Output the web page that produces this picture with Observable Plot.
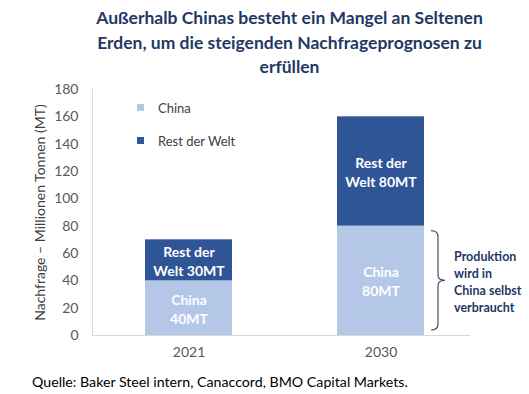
<!DOCTYPE html>
<html>
<head>
<meta charset="utf-8">
<script src="https://cdn.jsdelivr.net/npm/d3@7"></script>
<script src="https://cdn.jsdelivr.net/npm/@observablehq/plot@0.6"></script>
<style>
  html, body { margin: 0; padding: 0; background: #fff; }
  body { width: 529px; height: 394px; position: relative; overflow: hidden; font-family: Lato, "Open Sans", sans-serif; }
  #title { position: absolute; left: 50px; right: 0; top: 6px; text-align: center; font-weight: bold; font-size: 17.5px; line-height: 24.5px; color: #1f3864; }
  #chart { position: absolute; left: 0; top: 80px; }
  #legend { position: absolute; left: 137px; top: 100px; font-size: 13px; color: #404040; }
  .li { position: absolute; white-space: nowrap; height: 16px; line-height: 16px; }
  .sw { position: absolute; left: 0; top: 4px; width: 7px; height: 7px; }
  .lt { position: absolute; left: 21px; top: 0; }
  #caption { position: absolute; left: 32px; top: 373px; font-size: 14.2px; line-height: 18px; color: #000; white-space: nowrap; }
</style>
</head>
<body>
<div id="title">Außerhalb Chinas besteht ein Mangel an Seltenen<br>Erden, um die steigenden Nachfrageprognosen zu<br>erfüllen</div>
<div id="chart"></div>
<div id="legend"></div>
<div id="caption">Quelle: Baker Steel intern, Canaccord, BMO Capital Markets.</div>
<script>
const years = ["2021", "2030"];
const seriesNames = ["China", "Rest der Welt"];
const chinaValues = [40, 80];
const restValues = [30, 80];
const chinaLabels = ["China\n40MT", "China\n80MT"];
const restLabels = ["Rest der\nWelt 30MT", "Rest der\nWelt 80MT"];
const colors = ["#b4c7e7", "#2f5597"];
const yTicks = [0, 20, 40, 60, 80, 100, 120, 140, 160, 180];
const yLabel = "Nachfrage – Millionen Tonnen (MT)";
const annotation = "Produktion\nwird in\nChina selbst\nverbraucht";

const data = [];
years.forEach((yr, i) => {
  data.push({year: yr, series: seriesNames[0], value: chinaValues[i], label: chinaLabels[i]});
  data.push({year: yr, series: seriesNames[1], value: restValues[i], label: restLabels[i]});
});

const bracket = (index, scales) => {
  const x = scales.x, y = scales.y;
  let bw = 87;
  if (typeof x.bandwidth === "function") bw = x.bandwidth();
  else if (scales.scales && scales.scales.x && scales.scales.x.bandwidth) bw = scales.scales.x.bandwidth;
  const right = x("2030") + bw;
  const y1 = y(chinaValues[1]) + 5, y2 = y(0) - 5, ym = (y1 + y2) / 2;
  const xb = right + 7, xv = right + 14, xt = right + 21;
  const p = `M${xb},${y1} Q${xv},${y1} ${xv},${y1 + 6} L${xv},${ym - 5} Q${xv},${ym} ${xt},${ym} Q${xv},${ym} ${xv},${ym + 5} L${xv},${y2 - 6} Q${xv},${y2} ${xb},${y2}`;
  const path = document.createElementNS("http://www.w3.org/2000/svg", "path");
  path.setAttribute("d", p);
  path.setAttribute("fill", "none");
  path.setAttribute("stroke", "#44546a");
  path.setAttribute("stroke-width", "1.2");
  return path;
};

const chart = Plot.plot({
  width: 529,
  height: 290,
  marginTop: 9,
  marginBottom: 35,
  marginLeft: 92,
  marginRight: 59,
  style: {fontFamily: "Lato, 'Open Sans', sans-serif", background: "transparent"},
  x: {domain: years, paddingInner: 0.547, paddingOuter: 0.276, insetRight: -7},
  y: {domain: [0, 180]},
  color: {domain: seriesNames, range: colors},
  marks: [
    Plot.frame({anchor: "left", stroke: "#d9d9d9"}),
    Plot.barY(data, {x: "year", y: "value", fill: "series"}),
    Plot.ruleY([0], {stroke: "#d9d9d9"}),
    Plot.axisY({ticks: yTicks, tickSize: 0, tickPadding: 14, fontSize: 14, fill: "#595959", label: yLabel, labelAnchor: "center", labelOffset: 57, labelArrow: "none"}),
    Plot.axisX({tickSize: 0, tickPadding: 12, fontSize: 14, fill: "#595959", label: null}),
    Plot.text(data, Plot.stackY({x: "year", y: "value", text: "label", fill: "white", fontWeight: "bold", fontSize: 14, lineHeight: 1.36})),
    bracket,
    Plot.text([annotation], {x: () => years[1], y: () => chinaValues[1] / 2, text: d => d, dx: 73, textAnchor: "start", fontWeight: "bold", fontSize: 12.5, lineHeight: 1.36, fill: "#1f3864"})
  ]
});
document.getElementById("chart").appendChild(chart);
chart.querySelectorAll("[aria-label='y-axis label'] text, [aria-label='y-axis label']").forEach(el => { el.setAttribute("fill", "#404040"); el.style.fontSize = "14px"; });

const legend = document.getElementById("legend");
seriesNames.forEach((s, i) => {
  const item = document.createElement("div");
  item.className = "li";
  item.style.top = (i * 33) + "px";
  item.innerHTML = `<span class="sw" style="background:${colors[i]}"></span><span class="lt">${s}</span>`;
  legend.appendChild(item);
});
</script>
</body>
</html>
